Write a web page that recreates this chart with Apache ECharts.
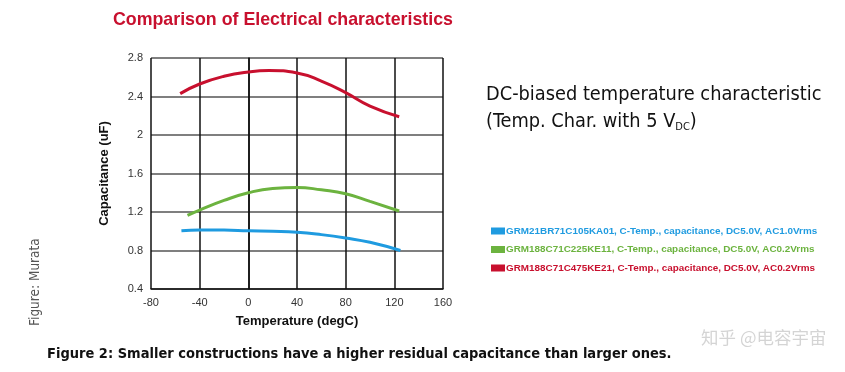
<!DOCTYPE html>
<html><head><meta charset="utf-8">
<script src="https://cdn.jsdelivr.net/npm/echarts@6/dist/echarts.min.js"></script>
<style>html,body{margin:0;padding:0;background:#fff}#c{width:845px;height:372px}</style>
</head><body><div id="c"></div>
<script>
const xTicks = [-80, -40, 0, 40, 80, 120, 160];
const yTicks = [0.4, 0.8, 1.2, 1.6, 2, 2.4, 2.8];
const seriesNames = [
  'GRM21BR71C105KA01, C-Temp., capacitance, DC5.0V, AC1.0Vrms',
  'GRM188C71C225KE11, C-Temp., capacitance, DC5.0V, AC0.2Vrms',
  'GRM188C71C475KE21, C-Temp., capacitance, DC5.0V, AC0.2Vrms'
];
const blueTemp = [-55, -40, -20, 0, 20, 40, 60, 80, 100, 125];
const blueCap  = [1.005, 1.012, 1.012, 1.005, 1.0, 0.99, 0.965, 0.93, 0.885, 0.80];
const greenTemp = [-50, -40, -20, 0, 20, 40, 60, 80, 100, 124];
const greenCap  = [1.165, 1.22, 1.32, 1.40, 1.445, 1.455, 1.43, 1.39, 1.31, 1.21];
const redTemp = [-56, -40, -20, 0, 17, 40, 60, 80, 100, 124];
const redCap  = [2.43, 2.53, 2.61, 2.655, 2.67, 2.645, 2.56, 2.44, 2.30, 2.19];
const colors = ['#1f9be0', '#6cb33f', '#c8102e'];

const chart = echarts.init(document.getElementById('c'));
const pair = (xs, ys) => xs.map((x, i) => [x, ys[i]]);
const dataSets = [pair(blueTemp, blueCap), pair(greenTemp, greenCap), pair(redTemp, redCap)];

chart.setOption({
  animation: false,
  backgroundColor: '#fff',
  grid: { left: 151, top: 58, width: 292, height: 231, containLabel: false },
  xAxis: {
    type: 'value', min: -80, max: 160, interval: 40,
    name: 'Temperature (degC)', nameLocation: 'middle', nameGap: 26,
    nameTextStyle: { fontFamily: 'Liberation Sans', fontWeight: 'bold', fontSize: 13, color: '#111' },
    axisLine: { show: true, lineStyle: { color: '#111', width: 1.5 } },
    axisTick: { show: false },
    axisLabel: { color: '#333', fontSize: 11, fontFamily: 'Liberation Sans', margin: 8 },
    splitLine: { show: true, lineStyle: { color: '#111', width: 1.5 } }
  },
  yAxis: {
    type: 'value', min: 0.4, max: 2.8, interval: 0.4,
    name: 'Capacitance (uF)', nameLocation: 'middle', nameGap: 40, nameRotate: 90,
    nameTextStyle: { fontFamily: 'Liberation Sans', fontWeight: 'bold', fontSize: 13, color: '#111' },
    axisLine: { show: true, lineStyle: { color: '#111', width: 1.5 } },
    axisTick: { show: false },
    axisLabel: { color: '#333', fontSize: 11, fontFamily: 'Liberation Sans', margin: 8,
      formatter: v => String(Math.round(v * 10) / 10) },
    splitLine: { show: true, lineStyle: { color: '#555', width: 1.5 } }
  },
  legend: {
    orient: 'vertical', left: 486, top: 221, itemGap: 8.5,
    itemWidth: 14, itemHeight: 7, icon: 'rect',
    textStyle: { fontFamily: 'Liberation Sans', fontWeight: 'bold', fontSize: 9.9, padding: [0, 0, 0, -4] },
    data: seriesNames.map((n, i) => ({ name: n, textStyle: { color: colors[i] } }))
  },
  graphic: [
    { type: 'text', left: 113, top: 11, style: { text: 'Comparison of Electrical characteristics',
      fill: '#c8102e', font: 'bold 17.8px "Liberation Sans"' } },
    { type: 'text', left: 486, top: 85, style: {
      text: '{a|DC-biased temperature characteristic}\n{a|(Temp. Char. with 5 V}{s|DC}{a|)}',
      rich: { a: { fontSize: 19.8, fontFamily: 'DejaVu Sans Condensed', fill: '#111', lineHeight: 27 },
              s: { fontSize: 11, fontFamily: 'DejaVu Sans Condensed', fill: '#111', padding: [10, 0, 0, 0] } } } },
    { type: 'text', x: 28, y: 326, rotation: Math.PI / 2, style: { text: 'Figure: Murata',
      fill: '#555', font: '13.5px "DejaVu Sans Condensed"' } },
    { type: 'text', left: 47, top: 347, style: { text: 'Figure 2: Smaller constructions have a higher residual capacitance than larger ones.',
      fill: '#111', font: 'bold 14.5px "DejaVu Sans Condensed"' } },
    { type: 'text', left: 701, top: 329, style: { text: '知乎 @电容宇宙',
      fill: '#d4d4d4', font: '17.5px "Noto Sans CJK SC"' } }
  ],
  series: dataSets.map((d, i) => ({
    name: seriesNames[i], type: 'line', smooth: 0.5, showSymbol: false, symbol: 'none',
    data: d, lineStyle: { color: colors[i], width: 3 }, itemStyle: { color: colors[i] }
  }))
});
</script></body></html>
